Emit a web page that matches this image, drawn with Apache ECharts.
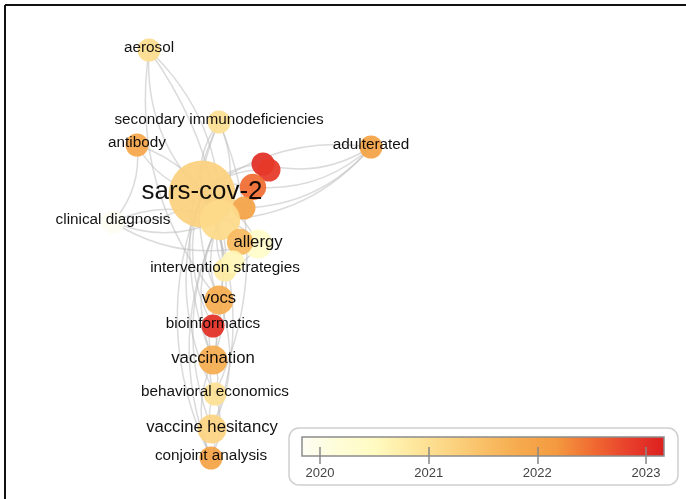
<!DOCTYPE html>
<html>
<head>
<meta charset="utf-8">
<script src="https://cdn.jsdelivr.net/npm/echarts@6/dist/echarts.min.js"></script>
<style>
  html, body { margin: 0; padding: 0; background: #fff; }
  #chart { width: 686px; height: 499px; }
</style>
</head>
<body>
<div id="chart"></div>
<script>
// Keyword co-occurrence network, overlay coloured by average publication year.
const keywords = [
  'sars-cov-2', 'aerosol', 'secondary immunodeficiencies', 'antibody', 'adulterated',
  'clinical diagnosis', 'omicron', 'mutation', 'spike protein', 'mask',
  'covid-19', 'allergy', 'anaphylaxis', 'intervention strategies', 'public health',
  'vocs', 'bioinformatics', 'vaccination', 'behavioral economics', 'vaccine hesitancy',
  'conjoint analysis'
];
// Layout coordinates of each keyword in the map
const layoutX = [202, 149, 219, 137, 371, 113, 263, 269, 253, 244, 220, 258, 240, 225, 233, 219, 213, 213, 215, 212, 211];
const layoutY = [194, 50, 122, 145, 147, 222, 164, 170, 187, 208, 220, 244, 242, 270, 262, 300, 326, 360, 394, 429, 458];
// Average publication year per keyword
const avgYear = [2021.25, 2021.05, 2021.0, 2021.9, 2022.0, 2019.85, 2023.0, 2022.9, 2022.5, 2022.0,
                 2021.1, 2020.4, 2021.6, 2020.8, 2020.6, 2021.8, 2023.0, 2021.8, 2021.0, 2021.2, 2022.0];
// Occurrences per keyword
const occurrences = [42, 1, 1, 1, 1, 1, 1, 1, 2, 1, 10, 3, 2, 1, 1, 3, 1, 3, 1, 3, 1];
// Whether the keyword's label is drawn
const labelShown = [1, 1, 1, 1, 1, 1, 0, 0, 0, 0, 0, 1, 0, 1, 0, 1, 1, 1, 1, 1, 1];

// Co-occurrence links
const linkSource = [0, 0, 0, 0, 0, 0, 0, 0, 0, 0, 0, 0, 0, 0, 16, 0, 18, 0, 20,
                    1, 15, 1, 2, 17, 2, 15, 3, 3, 4, 4, 4, 4, 5, 11, 10,
                    6, 7, 8, 10, 13, 15, 17, 19, 20, 11, 11, 13, 15, 17, 15, 16, 17, 18, 19, 20, 18, 19];
const linkTarget = [1, 2, 3, 4, 5, 6, 7, 8, 9, 10, 11, 12, 13, 15, 0, 17, 0, 19, 0,
                    10, 1, 17, 10, 2, 18, 2, 10, 5, 6, 8, 9, 10, 10, 5, 5,
                    7, 8, 9, 11, 10, 10, 10, 10, 10, 12, 13, 14, 16, 15, 19, 17, 18, 17, 18, 17, 20, 20];

// Colour scale
const legendTicks = [2020, 2021, 2022, 2023];
const yearRange = [2019.834, 2023.166];
const scaleColors = ['#fdfdf4', '#fefdd8', '#fffbc2', '#fee9a0', '#fcd685', '#f9c067',
                     '#f6aa4d', '#f49a40', '#f06c32', '#e8402c', '#dc1f1f'];

const chart = echarts.init(document.getElementById('chart'), null, { renderer: 'canvas' });

function yearColor(y) {
  const t = Math.max(0, Math.min(1, (y - yearRange[0]) / (yearRange[1] - yearRange[0])));
  return echarts.color.lerp(t, scaleColors);
}

const nodes = keywords.map((name, i) => {
  const occ = occurrences[i];
  return {
    name: name,
    value: [layoutX[i], layoutY[i]],
    symbolSize: 15 + 8 * Math.sqrt(occ),
    itemStyle: { color: yearColor(avgYear[i]), opacity: 0.93 },
    label: {
      show: !!labelShown[i],
      fontSize: Math.round((13.3 + 1.95 * Math.sqrt(occ)) * 10) / 10
    }
  };
});

const links = linkSource.map((s, i) => ({ source: s, target: linkTarget[i] }));

const stops = scaleColors.map((c, i) => ({ offset: i / (scaleColors.length - 1), color: c }));

const option = {
  backgroundColor: '#ffffff',
  animation: false,
  textStyle: { fontFamily: 'Arial, "Liberation Sans", sans-serif' },
  grid: [
    { left: 0, right: 0, top: 0, bottom: 0 },
    {
      left: 302, top: 437, width: 362, height: 19, show: true,
      backgroundColor: new echarts.graphic.LinearGradient(0, 0, 1, 0, stops),
      borderColor: '#8c8c8c', borderWidth: 1.5, z: 3
    }
  ],
  xAxis: [
    { gridIndex: 0, type: 'value', min: 0, max: 686, show: false },
    {
      gridIndex: 1, type: 'value', min: yearRange[0], max: yearRange[1],
      position: 'bottom', offset: -10, z: 4,
      axisLine: { show: false },
      splitLine: { show: false },
      axisTick: { show: true, length: 17, lineStyle: { color: '#888', width: 1.5 }, customValues: legendTicks },
      axisLabel: { customValues: legendTicks, margin: 21, fontSize: 13, color: '#444',
                   formatter: (v) => String(Math.round(v)) }
    }
  ],
  yAxis: [
    { gridIndex: 0, type: 'value', min: 0, max: 499, inverse: true, show: false },
    { gridIndex: 1, type: 'value', min: 0, max: 1, show: false }
  ],
  graphic: [
    { type: 'rect', z: -1, shape: { x: 289, y: 428, width: 389, height: 57, r: 10 },
      style: { fill: '#fff', stroke: '#cfcfcf', lineWidth: 1.5 } },
    { type: 'line', shape: { x1: 5, y1: 5, x2: 686, y2: 5 }, style: { stroke: '#111', lineWidth: 2 } },
    { type: 'line', shape: { x1: 5, y1: 5, x2: 5, y2: 499 }, style: { stroke: '#111', lineWidth: 2 } }
  ],
  series: [
    {
      type: 'graph',
      coordinateSystem: 'cartesian2d',
      xAxisIndex: 0,
      yAxisIndex: 0,
      data: nodes,
      links: links,
      symbol: 'circle',
      lineStyle: { color: '#bdbdbd', width: 1.5, opacity: 0.55, curveness: 0.22 },
      label: { position: 'inside', color: '#000', offset: [0, -2] },
      emphasis: { disabled: true },
      z: 2
    }
  ]
};

chart.setOption(option);
</script>
</body>
</html>
